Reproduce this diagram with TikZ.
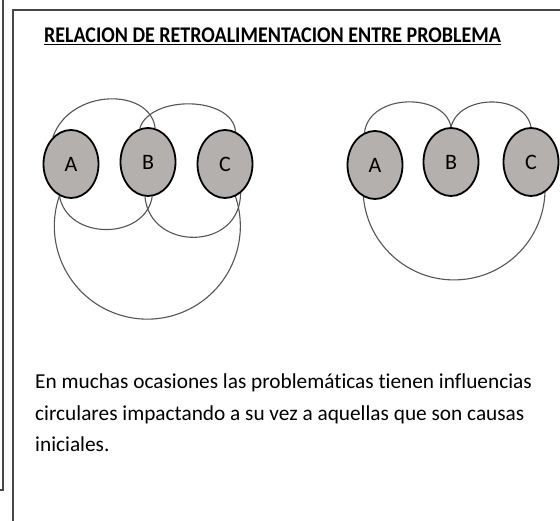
\documentclass[tikz,border=0pt]{standalone}
\usepackage{fontspec}
\setmainfont{Carlito}[Ligatures=NoCommon]
\usetikzlibrary{shapes.geometric,backgrounds}
\definecolor{nodegray}{RGB}{180,176,174}
\definecolor{arcgray}{RGB}{85,85,85}
\definecolor{framegray}{RGB}{70,70,70}
\begin{document}
\begin{tikzpicture}[x=1pt,y=1pt,
  prob/.style={ellipse, draw=black, line width=1.8pt, fill=nodegray,
    minimum width=55pt, minimum height=68pt, inner sep=0pt,
    font=\fontsize{22}{24}\selectfont},
  loopline/.style={draw=arcgray, line width=1.1pt},
  framepart/.style={draw=framegray, line width=1.3pt}]
\useasboundingbox (0,0) rectangle (560,-521);
% frames
\draw[framepart] (0,-490) -- (3,-490) -- (3,0);
\draw[framepart] (13,-521) -- (13,-10) -- (560,-10);
% title
\node[font=\bfseries\fontsize{20}{24}\selectfont, anchor=base, inner sep=0pt, yscale=1.12] (title) at (272.5,-43)
  {\underline{RELACION DE RETROALIMENTACION ENTRE PROBLEMA}};
% left group
\node[prob] (A1) at (71,-164) {A};
\node[prob] (B1) at (148,-162) {B};
\node[prob] (C1) at (225,-164) {C};
% right group
\node[prob] (A2) at (375,-165) {A};
\node[prob] (B2) at (451,-162) {B};
\node[prob] (C2) at (531,-162) {C};
% text
\node[anchor=base west, align=left, inner sep=0pt,
  font=\fontsize{21.3}{31.5}\selectfont] (txt) at (35,-452)
  {En muchas ocasiones las problemáticas tienen influencias\\
   circulares impactando a su vez a aquellas que son causas\\
   iniciales.};
\begin{scope}[on background layer]
\fill[white] (0,0) rectangle (560,-521);
% left loops
\draw[loopline] (A1.124) .. controls +(17,49) and +(-5,41) .. (B1.78);
\draw[loopline] (A1.250) .. controls +(8,-45) and +(-7,-44) .. (B1.277);
\draw[loopline] (B1.104) .. controls +(10,34) and +(-3,36) .. (C1.72);
\draw[loopline] (B1.265) .. controls +(5,-55) and +(0,-58) .. (C1.298);
\draw[loopline] (A1.250) arc[start angle=161, end angle=379, radius=93];
% right loops
\draw[loopline] (A2.108) .. controls +(5,40) and +(-6,34.5) .. (B2.90);
\draw[loopline] (B2.90) .. controls +(8,33.5) and +(-6,33.5) .. (C2.90);
\draw[loopline] (A2.250) arc[start angle=185, end angle=358, radius=91];
\end{scope}
\end{tikzpicture}
\end{document}
